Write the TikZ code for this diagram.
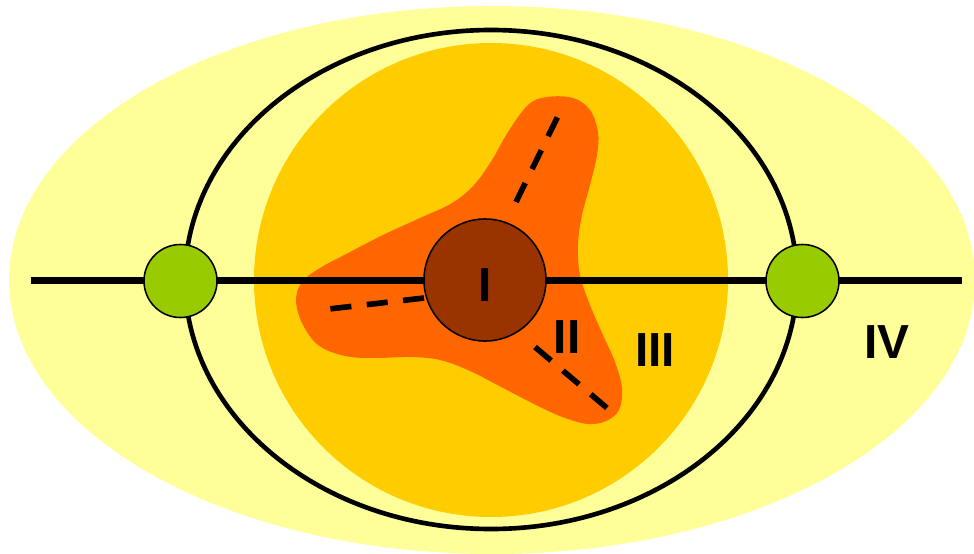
\documentclass[tikz,border=0pt]{standalone}
\usepackage{fontspec}
\setmainfont{Liberation Sans}
\usepackage{tikz}
\usetikzlibrary{calc}
\definecolor{paleyellow}{HTML}{FFFF99}
\definecolor{goldzone}{HTML}{FFCC00}
\definecolor{orangezone}{HTML}{FF6600}
\definecolor{corebrown}{HTML}{993300}
\definecolor{nodegreen}{HTML}{99CC00}
\tikzset{
  zonelabel/.style={font=\bfseries\fontsize{34}{34}\selectfont, inner sep=0pt},
  cutline/.style={line width=4pt, dash pattern=on 15pt off 11pt},
  greennode/.style={circle, draw, line width=1.1pt, fill=nodegreen, minimum size=1.825cm, inner sep=0pt},
}
\begin{document}
\begin{tikzpicture}[x=0.025cm, y=-0.025cm]
    \clip (0,0) rectangle (974,553);
    % Zones IV and III
    \fill[paleyellow] (492,280) ellipse [x radius=483, y radius=274];
    \draw[line width=3.3pt] (491,279.5) ellipse [x radius=306, y radius=249.5];
    \fill[goldzone] (491,280) circle [radius=237];

    % Zone II, three arms
    \fill[orangezone] plot[smooth cycle, tension=0.6] coordinates {
        (528,105) (547,97) (573,98) (590,110) (598,132) (597,155)
        (590,185) (582,215) (578,245) (580,275) (590,305) (603,335)
        (615,362) (622,388) (619,410) (606,421) (588,424) (565,418)
        (540,407) (505,389) (470,371) (440,360) (410,357) (375,358)
        (345,356) (318,345) (302,323) (296,300) (302,282) (320,268)
        (350,252) (385,234) (420,218) (452,203) (474,185) (492,160)
        (508,132)};

    % Axis through the centre
    \coordinate (endL) at (31,280.5);
    \coordinate (endR) at (962,280.5);
    \draw[line width=4.4pt] (endL) -- (endR);

    % Dashed boundaries in zone II
    \coordinate (topA) at (516,202);
    \coordinate (topB) at (558,116);
    \coordinate (leftA) at (424,298);
    \coordinate (leftB) at (329,309);
    \coordinate (lowA) at (535,347);
    \coordinate (lowB) at (607,408);
    \draw[cutline] (topA) -- (topB);
    \draw[cutline] (leftA) -- (leftB);
    \draw[cutline] (lowA) -- (lowB);

    % Core and the two green nodes
    \node[circle, draw, line width=1.1pt, fill=corebrown, minimum size=3.05cm, inner sep=0pt] (core) at (485,280) {};
    \node[zonelabel] (labI) at (485,285) {I};
    \node[greennode] (nodeL) at (180.5,281) {};
    \node[greennode] (nodeR) at (802.5,281) {};

    % Zone labels
    \node[zonelabel] (labII) at (567,337.5) {II};
    \node[zonelabel] (labIII) at (655,350.5) {III};
    \node[zonelabel] (labIV) at (887,342.5) {IV};
\end{tikzpicture}
\end{document}
